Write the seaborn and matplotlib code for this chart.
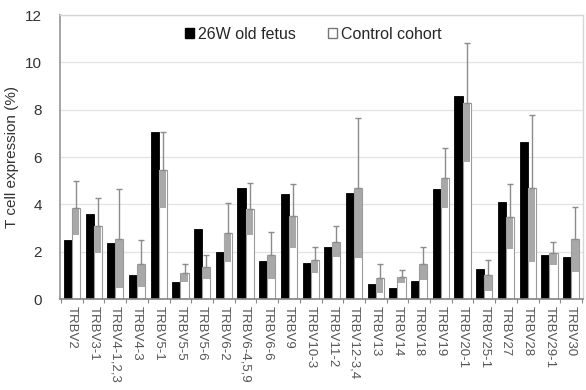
import numpy as np
import pandas as pd
import matplotlib
matplotlib.use("Agg")
import matplotlib.pyplot as plt
import seaborn as sns
from matplotlib.patches import Patch

categories = ["TRBV2", "TRBV3-1", "TRBV4-1,2,3", "TRBV4-3", "TRBV5-1", "TRBV5-5",
              "TRBV5-6", "TRBV6-2", "TRBV6-4,5,9", "TRBV6-6", "TRBV9", "TRBV10-3",
              "TRBV11-2", "TRBV12-3,4", "TRBV13", "TRBV14", "TRBV18", "TRBV19",
              "TRBV20-1", "TRBV25-1", "TRBV27", "TRBV28", "TRBV29-1", "TRBV30"]
fetus = [2.5, 3.6, 2.35, 1.0, 7.05, 0.7, 2.95, 2.0, 4.7, 1.6, 4.45, 1.52,
         2.2, 4.46, 0.63, 0.45, 0.76, 4.63, 8.58, 1.27, 4.11, 6.65, 1.86, 1.79]
control = [3.85, 3.1, 2.55, 1.5, 5.45, 1.1, 1.35, 2.8, 3.8, 1.85, 3.5, 1.65,
           2.42, 4.68, 0.87, 0.94, 1.5, 5.13, 8.3, 1.0, 3.48, 4.68, 1.93, 2.52]
control_err = [1.15, 1.15, 2.1, 1.0, 1.6, 0.4, 0.5, 1.25, 1.1, 1.0, 1.35, 0.55,
               0.66, 2.95, 0.63, 0.28, 0.7, 1.27, 2.5, 0.65, 1.37, 3.1, 0.49, 1.38]
series_names = ["26W old fetus", "Control cohort"]
yticks = [0, 2, 4, 6, 8, 10, 12]

df = pd.DataFrame({
    "cat": categories * 2,
    "val": fetus + control,
    "group": [series_names[0]] * len(categories) + [series_names[1]] * len(categories),
})

sns.set_theme(style="white")
plt.rcParams["font.family"] = ["Liberation Sans", "DejaVu Sans"]

fig = plt.figure(figsize=(5.86, 3.9), dpi=100)
ax = fig.add_axes([0.1024, 0.2333, 0.8925, 0.7282])

sns.barplot(data=df, x="cat", y="val", hue="group", order=categories,
            hue_order=series_names, palette=["#000000", "#ffffff"],
            width=0.75, ax=ax, errorbar=None, saturation=1, legend=False)

fet_bars = ax.containers[0]
ctl_bars = ax.containers[1]
for p in fet_bars:
    p.set_edgecolor("#000000")
    p.set_linewidth(0.6)
for p in ctl_bars:
    p.set_edgecolor("#9a9a9a")
    p.set_linewidth(0.8)

xs = np.array([p.get_x() + p.get_width() / 2 for p in ctl_bars])
w = ctl_bars[0].get_width()
c = np.array(control)
e = np.array(control_err)
low = np.maximum(c - e, 0)
ax.bar(xs, c - low, bottom=low, width=w * 0.85, color="#a8a8a8", edgecolor="none", zorder=3)
ax.errorbar(xs, c, yerr=[np.zeros_like(e), e], fmt="none", ecolor="#8c8c8c",
            elinewidth=1.0, capsize=2, capthick=1.0, zorder=4)

ax.set_ylim(0, 12)
ax.set_xlim(-0.55, len(categories) - 0.45)
ax.set_yticks(yticks)
ax.set_yticklabels([str(v) for v in yticks], fontsize=11, color="#333333")
ax.yaxis.grid(True, color="#e3e3e3", linewidth=0.9)
ax.set_axisbelow(True)

ax.set_xticks(range(len(categories)))
ax.set_xticklabels(categories, rotation=270, fontsize=9.5, color="#555555",
                   va="top", ha="center")
ax.tick_params(axis="x", length=0, pad=5)
ax.set_xticks(np.arange(len(categories) + 1) - 0.5, minor=True)
ax.tick_params(axis="x", which="minor", length=3, color="#888888", width=0.8, bottom=True)
ax.tick_params(axis="y", length=0, pad=13)

ax.set_xlabel("")
ax.set_ylabel("T cell expression (%)", fontsize=11, color="#333333", labelpad=4)

for s in ["top", "right"]:
    ax.spines[s].set_color("#d6d6d6")
    ax.spines[s].set_linewidth(1.0)
ax.spines["left"].set_color("#999999")
ax.spines["bottom"].set_color("#888888")
for s in ax.spines.values():
    s.set_visible(True)

handles = [Patch(facecolor="#000000", edgecolor="#000000"),
           Patch(facecolor="#ffffff", edgecolor="#777777")]
ax.legend(handles, series_names, loc="upper center", bbox_to_anchor=(0.484, 1.01),
          ncol=2, frameon=False, fontsize=11.5, handlelength=0.55, handleheight=0.55,
          handletextpad=0.25, columnspacing=2.0)

fig.savefig("out.png", dpi=100)
